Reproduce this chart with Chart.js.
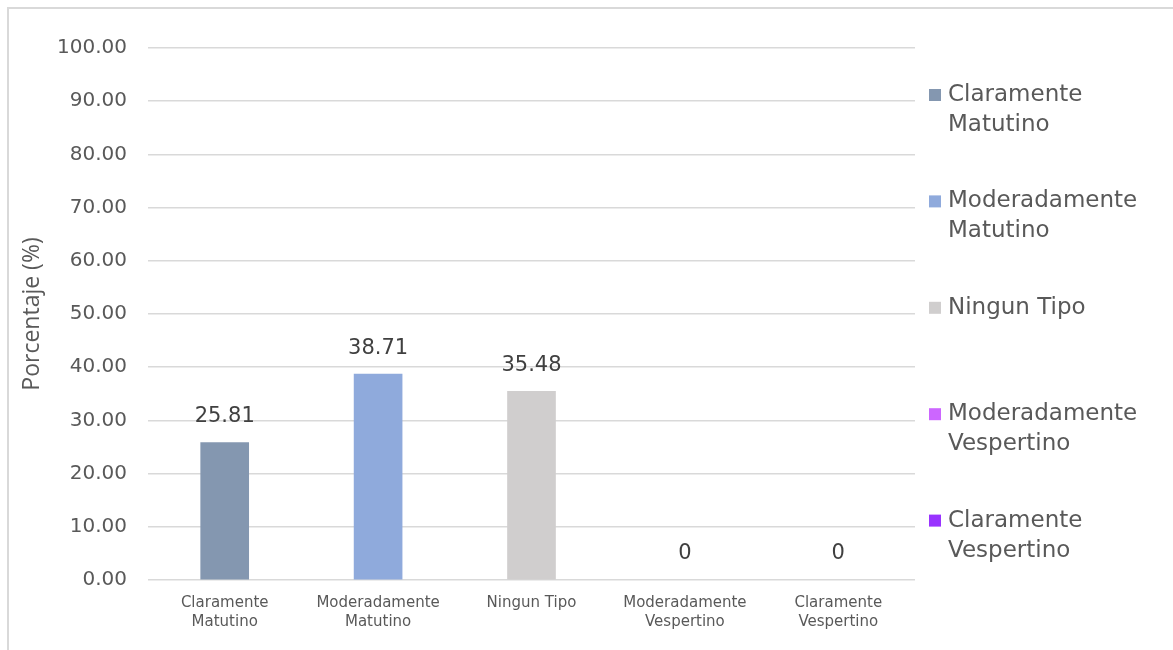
<!DOCTYPE html>
<html>
<head>
<meta charset="utf-8">
<script src="https://cdn.jsdelivr.net/npm/chart.js@4/dist/chart.umd.min.js"></script>
<style>
  html, body { margin: 0; padding: 0; background: #fff; }
  canvas { display: block; }
</style>
</head>
<body>
<canvas id="grafico" width="1173" height="650"></canvas>
<script>
// Datos del gráfico
const categorias = [
    ['Claramente', 'Matutino'],
    ['Moderadamente', 'Matutino'],
    'Ningun Tipo',
    ['Moderadamente', 'Vespertino'],
    ['Claramente', 'Vespertino']
];
const porcentajes = [25.81, 38.71, 35.48, 0, 0];
const colores = ['#8497B0', '#8FAADC', '#D0CECE', '#CC66FF', '#9933FF'];
const ticksY = [0, 10, 20, 30, 40, 50, 60, 70, 80, 90, 100];

const fuente = 'DejaVu Sans';
const gris = '#595959';

// Marco gris claro alrededor del gráfico
const marco = {
    id: 'marco',
    beforeDraw(chart) {
        const c = chart.ctx;
        c.save();
        c.fillStyle = '#fff';
        c.fillRect(0, 0, chart.width, chart.height);
        c.strokeStyle = '#D9D9D9';
        c.lineWidth = 2;
        c.beginPath();
        c.moveTo(8, chart.height);
        c.lineTo(8, 8);
        c.lineTo(chart.width, 8);
        c.stroke();
        c.restore();
    }
};

// Etiquetas de valor encima de cada barra
const etiquetas = {
    id: 'etiquetas',
    afterDatasetsDraw(chart) {
        const c = chart.ctx;
        const meta = chart.getDatasetMeta(0);
        c.save();
        c.font = '21px "' + fuente + '"';
        c.fillStyle = '#404040';
        c.textAlign = 'center';
        c.textBaseline = 'middle';
        meta.data.forEach((barra, i) => {
            c.fillText(String(porcentajes[i]), barra.x, barra.y - 26);
        });
        c.restore();
    }
};

// Leyenda a la derecha, una entrada por categoría
const leyenda = {
    id: 'leyenda',
    afterDraw(chart) {
        const c = chart.ctx;
        const area = chart.chartArea;
        const paso = area.height / categorias.length;
        const x = area.right + 14;
        c.save();
        c.font = '23px "' + fuente + '"';
        c.textBaseline = 'middle';
        c.textAlign = 'left';
        categorias.forEach((cat, i) => {
            const lineas = Array.isArray(cat) ? cat : [cat];
            const y = area.top + 47 + i * paso;
            c.fillStyle = colores[i];
            c.fillRect(x, y - 6, 12, 12);
            c.fillStyle = gris;
            lineas.forEach((linea, j) => {
                c.fillText(linea, x + 19, y + j * 30);
            });
        });
        c.restore();
    }
};

const ctx = document.getElementById('grafico').getContext('2d');

new Chart(ctx, {
    type: 'bar',
    data: {
        labels: categorias,
        datasets: [{
            data: porcentajes,
            // las barras en cero no se pintan
            backgroundColor: c => porcentajes[c.dataIndex] === 0 ? 'rgba(0,0,0,0)' : colores[c.dataIndex],
            barThickness: 48
        }]
    },
    options: {
        responsive: false,
        animation: false,
        layout: {
            padding: { top: 48, right: 258, bottom: 0, left: 0 }
        },
        plugins: {
            legend: { display: false },
            tooltip: { enabled: false }
        },
        scales: {
            x: {
                grid: { display: false },
                border: { display: false },
                ticks: {
                    color: gris,
                    font: { family: fuente, size: 15, lineHeight: 1.3 },
                    padding: 5,
                    maxRotation: 0,
                    autoSkip: false
                },
                afterFit(scale) { scale.height = 70; }
            },
            y: {
                min: 0,
                max: 100,
                afterBuildTicks(scale) {
                    scale.ticks = ticksY.map(v => ({ value: v }));
                },
                grid: { color: '#D9D9D9', lineWidth: 1.5, drawTicks: false },
                border: { display: false },
                ticks: {
                    color: gris,
                    font: { family: fuente, size: 20 },
                    padding: 21,
                    callback: v => v.toFixed(2)
                },
                title: {
                    display: true,
                    text: 'Porcentaje (%)',
                    color: gris,
                    font: { family: 'Open Sans', size: 23 },
                    padding: { top: 19, bottom: 0 }
                },
                afterFit(scale) { scale.width = 148; }
            }
        }
    },
    plugins: [marco, etiquetas, leyenda]
});
</script>
</body>
</html>
